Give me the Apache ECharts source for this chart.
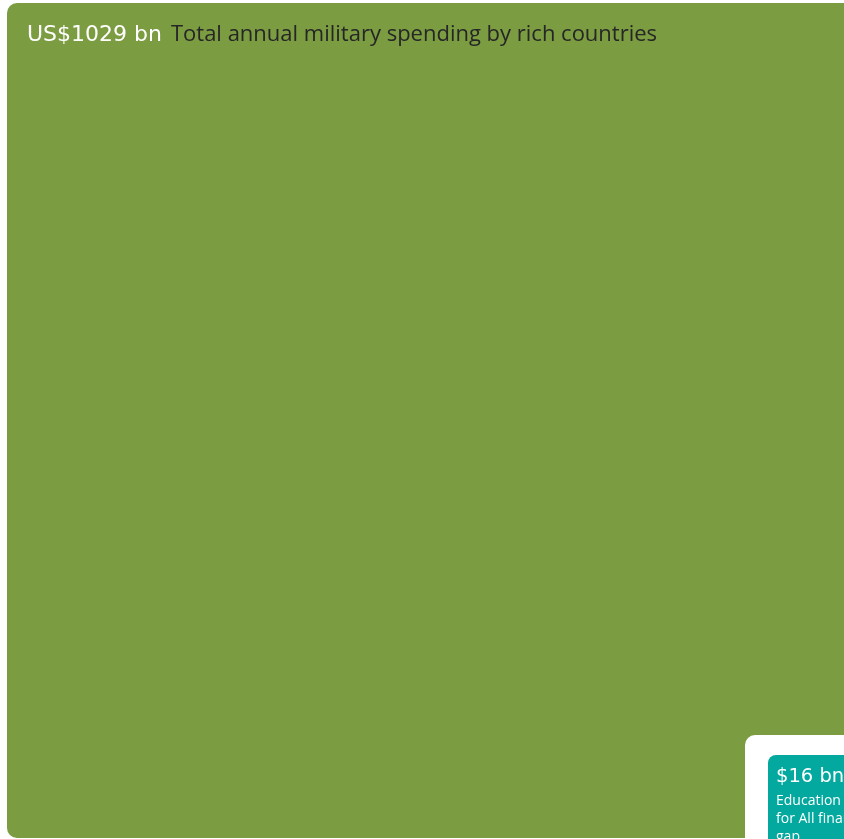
<!DOCTYPE html>
<html><head><meta charset="utf-8">
<script src="https://cdn.jsdelivr.net/npm/echarts@6/dist/echarts.min.js"></script>
<style>html,body{margin:0;padding:0;background:#fff;overflow:hidden}#c{width:844px;height:839px;}</style>
</head><body><div id="c"></div>
<script>
// ---- data ----
const descriptions = ['Total annual military spending by rich countries', 'Education\nfor All financing gap'];
const amountLabels = ['US$1029 bn', '$16 bn'];
const values = [1029, 16];
const colors = ['#7b9c41', '#03a89e'];

// ---- layout / style constants ----
const FONT = '"Open Sans", "Noto Sans", sans-serif';
const FONT_NUM = '"DejaVu Sans", sans-serif';
const side0 = Math.sqrt(values[0]);

const chart = echarts.init(document.getElementById('c'), null, {renderer: 'canvas'});
chart.setOption({
  animation: false,
  backgroundColor: '#ffffff',
  grid: {left: 7, top: 3, right: 0, height: 835},
  xAxis: {type: 'value', min: 0, max: side0, show: false},
  yAxis: {type: 'value', min: 0, max: side0, inverse: true, show: false},
  series: [{
    type: 'custom',
    clip: false,
    coordinateSystem: 'cartesian2d',
    data: values.map((v, i) => [i, v]),
    renderItem: function (params, api) {
      const i = api.value(0);
      const v = api.value(1);
      const s = Math.sqrt(v);
      const p0 = api.coord([0, 0]);
      if (i === 0) {
        const p1 = api.coord([s, s]);
        return {
          type: 'group',
          children: [{
            type: 'rect',
            shape: {x: p0[0], y: p0[1], width: p1[0] - p0[0], height: p1[1] - p0[1], r: [10, 0, 0, 10]},
            style: {fill: colors[0]}
          }, {
            type: 'text',
            x: p0[0] + 20, y: p0[1] + 32,
            style: {
              text: '{a|' + amountLabels[0] + '}{b|' + descriptions[0] + '}',
              verticalAlign: 'middle',
              rich: {
                a: {fontFamily: FONT_NUM, fontSize: 22, fill: '#ffffff', padding: [0, 9, 0, 0]},
                b: {fontFamily: FONT, fontSize: 22, fill: '#262626'}
              }
            }
          }]
        };
      }
      // small box anchored near the bottom-right of the big box
      const big = api.coord([side0, side0]);
      const ox = big[0] - 76, oy = big[1] - 83;
      const unit = api.size([1, 1]);
      const w = s * unit[0], h = s * unit[1];
      return {
        type: 'group',
        children: [{
          type: 'rect',
          shape: {x: ox - 23, y: oy - 20, width: w + 46, height: h + 40, r: 10},
          style: {fill: '#ffffff'}
        }, {
          type: 'rect',
          shape: {x: ox, y: oy, width: w, height: h, r: 8},
          style: {fill: colors[1]}
        }, {
          type: 'text',
          x: ox + 8, y: oy + 22,
          style: {text: amountLabels[1], fontFamily: FONT_NUM, fontSize: 19.5, fill: '#ffffff', verticalAlign: 'middle'}
        }, {
          type: 'text',
          x: ox + 8, y: oy + 37,
          style: {text: descriptions[1], fontFamily: FONT, fontSize: 14, lineHeight: 18, fill: '#ffffff',
                  width: 118, overflow: 'break', verticalAlign: 'top'}
        }]
      };
    }
  }]
});
</script></body></html>
